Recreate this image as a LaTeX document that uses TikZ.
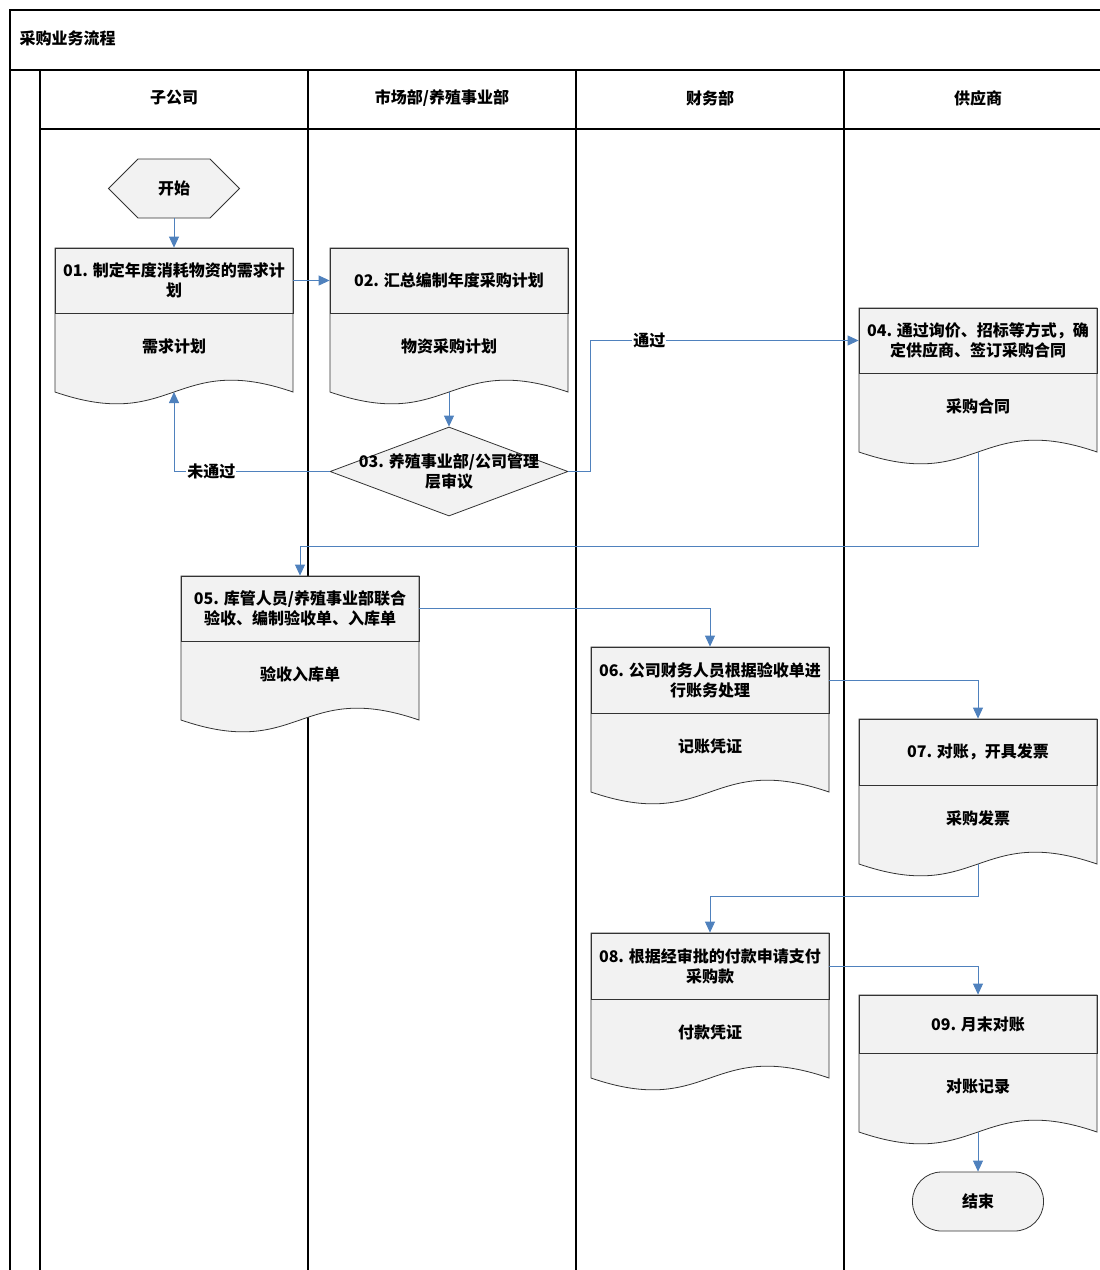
\documentclass[tikz,border=0pt]{standalone}
\usepackage{fontspec}
\setmainfont{Noto Sans CJK SC}
\usepackage{tikz}
\usetikzlibrary{positioning, arrows.meta, shapes.geometric, shapes.symbols}

\definecolor{flowblue}{HTML}{4F81BD}
\definecolor{boxgray}{HTML}{F2F2F2}

\begin{document}
\begin{tikzpicture}[
    x=1pt, y=-1pt,
    font=\fontsize{16}{20}\selectfont\bfseries,
    lane/.style={line width=1.6pt, black},
    docshape/.style={draw=black!80, fill=boxgray, line width=0.8pt},
    head/.style={draw=black!80, line width=0.8pt, minimum width=238pt, inner xsep=0pt, align=center},
    flow/.style={-{Triangle[length=11pt, width=10pt]}, line width=0.9pt, flowblue},
    lbl/.style={fill=white, text=black, inner sep=1pt}
]
    \useasboundingbox (0,0) rectangle (1100,1270);

    % Pool and lanes
    \draw[lane] (1100,10) -- (10,10) -- (10,1270);
    \draw[lane] (10,70) -- (1100,70);
    \draw[lane] (40,129) -- (1100,129);
    \draw[lane] (40,70) -- (40,1270);
    \draw[lane] (308,70) -- (308,1270);
    \draw[lane] (576,70) -- (576,1270);
    \draw[lane] (844,70) -- (844,1270);

    \node[anchor=west] (pool) at (16,38) {采购业务流程};
    \node (lane1) at (174,98) {子公司};
    \node (lane2) at (442,98) {市场部/养殖事业部};
    \node (lane3) at (710,98) {财务部};
    \node (lane4) at (978,98) {供应商};

    % Start
    \node[signal, signal to=west and east, signal pointer angle=90, draw=black!80, fill=boxgray,
        line width=0.8pt, minimum width=131pt, minimum height=59pt, inner sep=0pt] (start) at (174,188.5) {开始};

    % 01
    \draw[docshape] (55,248) -- (293,248) -- (293,392) .. controls (174,351) and (174,433) .. (55,392) -- cycle;
    \node[head, minimum height=65pt] (s01) at (174,280.5) {01. 制定年度消耗物资的需求计\\划};
    \node (o01) at (174,346) {需求计划};
    \coordinate (b01) at (174,392);

    % 02
    \draw[docshape] (330,248) -- (568,248) -- (568,392) .. controls (449,351) and (449,433) .. (330,392) -- cycle;
    \node[head, minimum height=65pt] (s02) at (449,280.5) {02. 汇总编制年度采购计划};
    \node (o02) at (449,346) {物资采购计划};
    \coordinate (b02) at (449,392);

    % 03
    \node[diamond, draw=black!80, fill=boxgray, line width=0.8pt, minimum width=238pt, minimum height=89pt, inner sep=0pt] (d03) at (449,471.5) {};
    \node[align=center] (t03) at (449,471) {03. 养殖事业部/公司管理\\层审议};

    % 04
    \draw[docshape] (859,308) -- (1097,308) -- (1097,452) .. controls (978,411) and (978,493) .. (859,452) -- cycle;
    \node[head, minimum height=65pt] (s04) at (978,340.5) {04. 通过询价、招标等方式，确\\定供应商、签订采购合同};
    \node (o04) at (978,406) {采购合同};
    \coordinate (b04) at (978,452);

    % 05
    \draw[docshape] (181,576) -- (419,576) -- (419,720) .. controls (300,679) and (300,761) .. (181,720) -- cycle;
    \node[head, minimum height=65pt] (s05) at (300,608.5) {05. 库管人员/养殖事业部联合\\验收、编制验收单、入库单};
    \node (o05) at (300,674) {验收入库单};

    % 06
    \draw[docshape] (591,647) -- (829,647) -- (829,792) .. controls (710,751) and (710,833) .. (591,792) -- cycle;
    \node[head, minimum height=66pt] (s06) at (710,680) {06. 公司财务人员根据验收单进\\行账务处理};
    \node (o06) at (710,746) {记账凭证};

    % 07
    \draw[docshape] (859,719) -- (1097,719) -- (1097,864) .. controls (978,823) and (978,905) .. (859,864) -- cycle;
    \node[head, minimum height=66pt] (s07) at (978,752) {07. 对账，开具发票};
    \node (o07) at (978,818) {采购发票};
    \coordinate (b07) at (978,864);

    % 08
    \draw[docshape] (591,933) -- (829,933) -- (829,1078) .. controls (710,1037) and (710,1119) .. (591,1078) -- cycle;
    \node[head, minimum height=66pt] (s08) at (710,966) {08. 根据经审批的付款申请支付\\采购款};
    \node (o08) at (710,1032) {付款凭证};

    % 09
    \draw[docshape] (859,995) -- (1097,995) -- (1097,1132) .. controls (978,1091) and (978,1173) .. (859,1132) -- cycle;
    \node[head, minimum height=58pt] (s09) at (978,1024) {09. 月末对账};
    \node (o09) at (978,1086) {对账记录};
    \coordinate (b09) at (978,1132);

    % End
    \node[draw=black!80, fill=boxgray, line width=0.8pt, rounded corners=29pt, minimum width=131pt, minimum height=59pt] (end) at (978,1201.5) {结束};

    % Connectors
    \draw[flow] (start.south) -- (s01.north);
    \draw[flow] (s01.east) -- (s02.west);
    \draw[flow] (b02) -- (d03.north);
    \draw[flow] (d03.west) -| node[pos=0.38, lbl] {未通过} (b01);
    \draw[flow] (d03.east) -- ++(22,0) |- node[pos=0.61, lbl] {通过} (s04.west);
    \draw[flow] (b04) -- ++(0,94) -| (s05.north);
    \draw[flow] (s05.east) -| (s06.north);
    \draw[flow] (s06.east) -| (s07.north);
    \draw[flow] (b07) -- ++(0,32) -| (s08.north);
    \draw[flow] (s08.east) -| (s09.north);
    \draw[flow] (b09) -- (end.north);

\end{tikzpicture}
\end{document}
